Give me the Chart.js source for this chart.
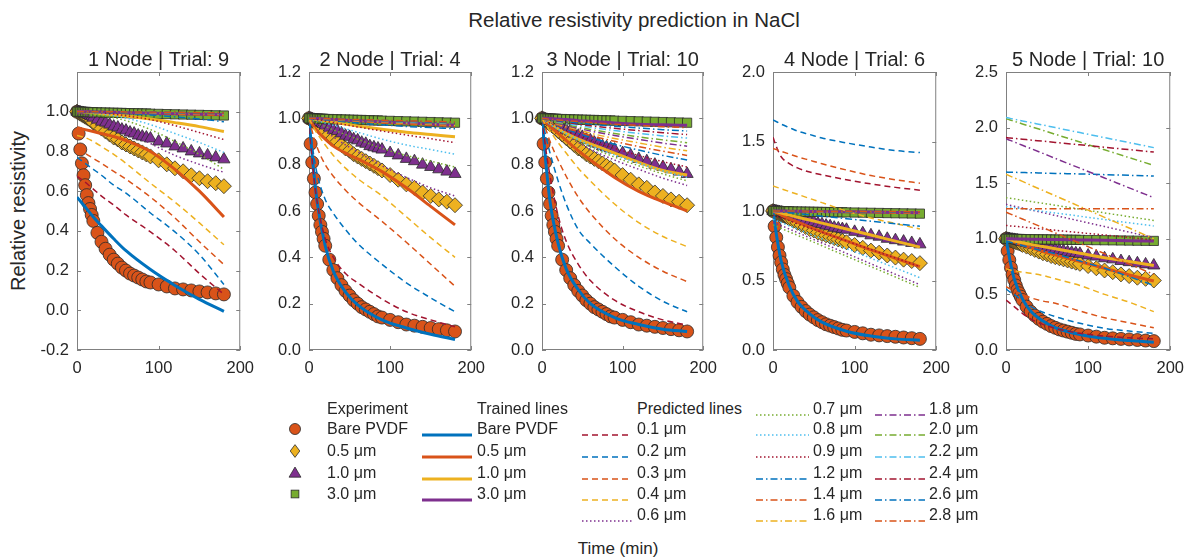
<!DOCTYPE html>
<html lang="en">
<head>
<meta charset="UTF-8">
<title>Relative resistivity prediction in NaCl</title>
<script src="https://cdn.jsdelivr.net/npm/chart.js"></script>
<style>
  body { margin: 0; background: #fff; font-family: "Liberation Sans", Arial, sans-serif; color: #262626; }
  #page { position: relative; width: 1194px; height: 559px; overflow: hidden; }
  .txt { position: absolute; white-space: nowrap; line-height: 1; }
  .leg { position: absolute; white-space: nowrap; font-size: 16px; line-height: 1; transform: translateY(-50%); }
  .icon { position: absolute; }
</style>
</head>
<body>
<div id="page">
  <div class="txt" style="left:634px; top:20px; font-size:20.5px; transform:translate(-50%,-50%);">Relative resistivity prediction in NaCl</div>
  <div class="txt" style="left:18px; top:211px; font-size:20px; transform:translate(-50%,-50%) rotate(-90deg);">Relative resistivity</div>
  <div class="txt" style="left:618px; top:548px; font-size:17px; transform:translate(-50%,-50%);">Time (min)</div>
</div>
<script>
// ---- data ----
const panelTitles = ['1 Node | Trial: 9', '2 Node | Trial: 4', '3 Node | Trial: 10', '4 Node | Trial: 6', '5 Node | Trial: 10'];
const xTicks = [0, 100, 200];
const yTicks1 = [-0.2, 0, 0.2, 0.4, 0.6, 0.8, 1.0];
const yTicks2 = [0, 0.2, 0.4, 0.6, 0.8, 1.0, 1.2];
const yTicks3 = [0, 0.2, 0.4, 0.6, 0.8, 1.0, 1.2];
const yTicks4 = [0, 0.5, 1.0, 1.5, 2.0];
const yTicks5 = [0, 0.5, 1.0, 1.5, 2.0, 2.5];

const expNames = ['Bare PVDF', '0.5 μm', '1.0 μm', '3.0 μm'];
const trainedNames = ['Bare PVDF', '0.5 μm', '1.0 μm', '3.0 μm'];
const predictedNames = ['0.1 μm', '0.2 μm', '0.3 μm', '0.4 μm', '0.6 μm', '0.7 μm', '0.8 μm', '0.9 μm',
  '1.2 μm', '1.4 μm', '1.6 μm', '1.8 μm', '2.0 μm', '2.2 μm', '2.4 μm', '2.6 μm', '2.8 μm'];

// experiment (same measurements in every panel)
const expTime = [0,2,4,6,8,10,12,14,16,18,20,25,30,35,40,45,50,55,60,65,70,75,80,85,90,100,110,120,130,140,150,160,170,180];
const expBare = [1.00,0.89,0.81,0.74,0.68,0.63,0.58,0.54,0.51,0.48,0.45,0.39,0.345,0.31,0.28,0.255,0.235,0.215,0.20,0.185,0.175,0.165,0.155,0.145,0.14,0.13,0.12,0.11,0.105,0.10,0.095,0.09,0.085,0.08];
const exp05 = [1.00,0.995,0.99,0.985,0.98,0.975,0.97,0.965,0.96,0.955,0.945,0.93,0.915,0.90,0.885,0.87,0.86,0.845,0.835,0.825,0.815,0.805,0.795,0.785,0.775,0.755,0.735,0.715,0.70,0.68,0.665,0.65,0.64,0.625];
const exp10 = [1.0,0.998,0.996,0.994,0.992,0.99,0.987,0.984,0.98,0.976,0.97,0.96,0.95,0.945,0.935,0.925,0.92,0.91,0.905,0.895,0.89,0.88,0.875,0.87,0.865,0.85,0.84,0.825,0.815,0.80,0.79,0.78,0.77,0.76];
const exp30 = [1.0,1.0,1.0,1.0,0.999,0.999,0.999,0.998,0.998,0.998,0.997,0.997,0.996,0.996,0.995,0.995,0.994,0.994,0.993,0.993,0.992,0.992,0.991,0.991,0.990,0.989,0.988,0.987,0.986,0.985,0.984,0.983,0.982,0.981];

// model lines are sampled at these times
const lineTime = [0,5,10,20,30,45,60,90,120,150,180];

// trained lines: Bare PVDF, 0.5, 1.0, 3.0 um
const trained1 = [
  [0.57,0.545,0.52,0.47,0.425,0.36,0.30,0.205,0.125,0.055,-0.005],
  [0.92,0.915,0.91,0.90,0.89,0.875,0.855,0.80,0.71,0.60,0.47],
  [1.0,1.0,0.998,0.995,0.99,0.985,0.978,0.963,0.945,0.925,0.90],
  [1.0,1.0,1.0,0.999,0.998,0.997,0.995,0.992,0.99,0.987,0.985]
];
const trained2 = [
  [1.0,0.80,0.64,0.45,0.34,0.25,0.195,0.13,0.095,0.068,0.045],
  [1.0,0.97,0.945,0.91,0.88,0.85,0.825,0.77,0.70,0.62,0.54],
  [1.0,0.998,0.995,0.99,0.985,0.975,0.967,0.953,0.94,0.93,0.92],
  [1.0,1.0,0.999,0.997,0.995,0.992,0.99,0.985,0.98,0.975,0.97]
];
const trained3 = [
  [1.0,0.80,0.64,0.46,0.35,0.26,0.20,0.14,0.11,0.09,0.08],
  [1.0,0.98,0.965,0.935,0.905,0.86,0.82,0.745,0.685,0.64,0.60],
  [1.0,0.99,0.98,0.955,0.935,0.91,0.89,0.85,0.81,0.775,0.755],
  [1.0,1.0,0.999,0.997,0.995,0.99,0.987,0.98,0.975,0.972,0.97]
];
const trained4 = [
  [1.0,0.80,0.64,0.46,0.35,0.26,0.20,0.135,0.10,0.08,0.07],
  [1.0,0.985,0.97,0.945,0.92,0.885,0.85,0.785,0.72,0.66,0.60],
  [1.0,0.992,0.985,0.97,0.955,0.935,0.913,0.87,0.827,0.783,0.74],
  [1.0,1.0,1.0,0.999,0.998,0.997,0.996,0.994,0.992,0.99,0.988]
];
const trained5 = [
  [1.0,0.80,0.64,0.46,0.35,0.26,0.20,0.14,0.105,0.085,0.07],
  [1.0,0.985,0.97,0.945,0.92,0.885,0.855,0.795,0.735,0.675,0.62],
  [1.0,0.99,0.98,0.965,0.95,0.93,0.91,0.87,0.83,0.795,0.76],
  [1.0,1.0,0.999,0.998,0.997,0.995,0.993,0.99,0.987,0.983,0.98]
];

// predicted lines, same order as predictedNames
const predicted1 = [
  [0.675,0.66,0.645,0.61,0.575,0.53,0.48,0.395,0.30,0.185,0.08],
  [0.77,0.755,0.74,0.71,0.68,0.63,0.59,0.49,0.395,0.28,0.13],
  [0.81,0.80,0.79,0.765,0.74,0.70,0.66,0.57,0.465,0.345,0.23],
  [0.88,0.875,0.87,0.85,0.825,0.785,0.74,0.64,0.545,0.44,0.33],
  [0.99,0.99,0.985,0.975,0.96,0.935,0.905,0.84,0.78,0.735,0.695],
  [1.0,0.998,0.995,0.99,0.982,0.97,0.955,0.91,0.85,0.785,0.71],
  [1.0,0.999,0.998,0.995,0.99,0.98,0.968,0.935,0.89,0.845,0.795],
  [1.0,1.0,0.999,0.997,0.994,0.988,0.98,0.96,0.93,0.895,0.86],
  [1.0,1.0,1.0,0.999,0.998,0.995,0.992,0.984,0.974,0.963,0.95],
  [1.0,1.0,1.0,0.999,0.998,0.997,0.995,0.992,0.988,0.984,0.98],
  [1.0,1.0,1.0,1.0,0.999,0.998,0.997,0.995,0.992,0.989,0.986],
  [1.0,1.0,1.0,1.0,0.999,0.998,0.997,0.995,0.993,0.99,0.988],
  [1.0,1.0,1.0,1.0,1.0,0.999,0.998,0.996,0.994,0.992,0.99],
  [1.0,1.0,1.0,1.0,1.0,0.999,0.998,0.997,0.995,0.993,0.991],
  [1.0,1.0,1.0,1.0,1.0,0.999,0.999,0.997,0.996,0.994,0.992],
  [1.0,1.0,1.0,1.0,1.0,1.0,0.999,0.998,0.996,0.995,0.993],
  [1.0,1.0,1.0,1.0,1.0,1.0,0.999,0.998,0.997,0.995,0.994]
];
const predicted2 = [
  [1.0,0.78,0.64,0.48,0.40,0.33,0.29,0.22,0.165,0.13,0.10],
  [1.0,0.86,0.76,0.65,0.59,0.52,0.46,0.37,0.29,0.225,0.165],
  [1.0,0.93,0.875,0.80,0.75,0.69,0.64,0.555,0.465,0.37,0.275],
  [1.0,0.965,0.935,0.885,0.84,0.785,0.74,0.665,0.575,0.485,0.40],
  [1.0,0.985,0.97,0.945,0.92,0.885,0.855,0.795,0.745,0.70,0.665],
  [1.0,0.99,0.98,0.965,0.95,0.93,0.91,0.87,0.84,0.815,0.79],
  [1.0,0.995,0.99,0.98,0.97,0.955,0.94,0.91,0.885,0.865,0.845],
  [1.0,0.997,0.994,0.988,0.982,0.972,0.963,0.945,0.928,0.912,0.895],
  [1.0,0.999,0.997,0.994,0.99,0.985,0.98,0.972,0.965,0.96,0.955],
  [1.0,1.0,0.998,0.996,0.993,0.99,0.987,0.98,0.975,0.97,0.965],
  [1.0,1.0,0.999,0.997,0.995,0.992,0.989,0.984,0.979,0.975,0.97],
  [1.0,1.0,0.999,0.998,0.996,0.993,0.991,0.986,0.982,0.978,0.975],
  [1.0,1.0,1.0,0.998,0.996,0.994,0.992,0.988,0.984,0.98,0.977],
  [1.0,1.0,1.0,0.998,0.997,0.995,0.993,0.989,0.985,0.982,0.979],
  [1.0,1.0,1.0,0.999,0.997,0.995,0.993,0.99,0.987,0.984,0.98],
  [1.0,1.0,1.0,0.999,0.998,0.996,0.994,0.991,0.988,0.985,0.982],
  [1.0,1.0,1.0,0.999,0.998,0.996,0.995,0.992,0.989,0.987,0.984]
];
const predicted3 = [
  [1.0,0.86,0.75,0.58,0.47,0.37,0.30,0.215,0.165,0.13,0.108],
  [1.0,0.92,0.85,0.73,0.63,0.52,0.46,0.36,0.275,0.21,0.165],
  [1.0,0.95,0.90,0.82,0.75,0.66,0.59,0.48,0.40,0.34,0.295],
  [1.0,0.97,0.945,0.895,0.85,0.785,0.73,0.63,0.55,0.49,0.446],
  [1.0,0.985,0.971,0.948,0.925,0.896,0.867,0.82,0.78,0.742,0.71],
  [1.0,0.987,0.973,0.951,0.93,0.903,0.876,0.833,0.795,0.76,0.73],
  [1.0,0.987,0.975,0.954,0.934,0.908,0.883,0.842,0.806,0.773,0.745],
  [1.0,0.99,0.979,0.962,0.945,0.924,0.903,0.87,0.84,0.813,0.79],
  [1.0,0.991,0.982,0.968,0.953,0.935,0.917,0.888,0.863,0.84,0.82],
  [1.0,0.992,0.984,0.971,0.958,0.942,0.926,0.901,0.878,0.858,0.84],
  [1.0,0.993,0.986,0.975,0.964,0.95,0.936,0.913,0.894,0.875,0.86],
  [1.0,0.994,0.988,0.978,0.969,0.957,0.945,0.926,0.909,0.893,0.88],
  [1.0,0.995,0.99,0.981,0.973,0.962,0.952,0.935,0.92,0.907,0.895],
  [1.0,0.996,0.992,0.985,0.978,0.969,0.961,0.947,0.935,0.924,0.915],
  [1.0,0.996,0.993,0.987,0.982,0.975,0.968,0.957,0.947,0.938,0.93],
  [1.0,0.997,0.995,0.99,0.986,0.98,0.975,0.966,0.958,0.951,0.945],
  [1.0,0.998,0.996,0.993,0.99,0.986,0.982,0.975,0.97,0.964,0.96]
];
const predicted4 = [
  [1.53,1.45,1.39,1.34,1.31,1.28,1.26,1.225,1.195,1.17,1.15],
  [1.655,1.64,1.625,1.60,1.575,1.55,1.525,1.49,1.46,1.435,1.42],
  [1.45,1.44,1.43,1.41,1.39,1.365,1.34,1.295,1.255,1.225,1.20],
  [1.18,1.17,1.16,1.14,1.12,1.09,1.06,1.0,0.95,0.91,0.87],
  [0.92,0.907,0.895,0.87,0.845,0.807,0.77,0.695,0.62,0.545,0.47],
  [0.90,0.888,0.875,0.85,0.825,0.788,0.75,0.675,0.60,0.525,0.45],
  [0.94,0.928,0.917,0.893,0.87,0.835,0.80,0.73,0.66,0.59,0.52],
  [0.97,0.96,0.95,0.93,0.908,0.878,0.847,0.785,0.723,0.662,0.60],
  [1.0,0.997,0.994,0.988,0.982,0.973,0.963,0.945,0.927,0.908,0.89],
  [1.0,1.0,0.999,0.998,0.997,0.995,0.993,0.99,0.988,0.986,0.985],
  [1.0,1.0,1.0,0.999,0.998,0.997,0.996,0.994,0.992,0.99,0.988],
  [1.0,1.0,1.0,0.999,0.998,0.997,0.996,0.994,0.993,0.991,0.99],
  [1.0,1.0,1.0,1.0,0.999,0.998,0.997,0.995,0.994,0.992,0.991],
  [1.0,1.0,1.0,1.0,0.999,0.998,0.997,0.996,0.994,0.993,0.992],
  [1.0,1.0,1.0,1.0,0.999,0.999,0.998,0.996,0.995,0.994,0.993],
  [1.0,1.0,1.0,1.0,1.0,0.999,0.998,0.997,0.996,0.995,0.994],
  [1.0,1.0,1.0,1.0,1.0,0.999,0.999,0.998,0.997,0.996,0.995]
];
const predicted5 = [
  [0.45,0.42,0.39,0.33,0.28,0.23,0.195,0.15,0.125,0.11,0.10],
  [0.55,0.52,0.50,0.44,0.39,0.34,0.30,0.24,0.195,0.17,0.15],
  [0.57,0.55,0.53,0.50,0.47,0.44,0.42,0.35,0.29,0.245,0.20],
  [0.73,0.72,0.71,0.70,0.69,0.67,0.64,0.58,0.50,0.43,0.345],
  [1.31,1.302,1.293,1.277,1.26,1.235,1.21,1.16,1.11,1.06,1.01],
  [1.37,1.364,1.359,1.347,1.336,1.319,1.302,1.267,1.233,1.199,1.165],
  [1.29,1.285,1.28,1.271,1.261,1.246,1.232,1.203,1.173,1.144,1.115],
  [1.12,1.116,1.113,1.106,1.098,1.088,1.077,1.055,1.034,1.012,0.99],
  [1.60,1.599,1.598,1.596,1.594,1.591,1.588,1.583,1.577,1.571,1.565],
  [1.24,1.224,1.209,1.178,1.147,1.10,1.053,0.96,0.867,0.773,0.68],
  [1.58,1.564,1.548,1.516,1.483,1.435,1.387,1.29,1.193,1.097,1.0],
  [1.90,1.885,1.871,1.841,1.812,1.768,1.723,1.635,1.547,1.458,1.37],
  [2.08,2.068,2.057,2.033,2.01,1.975,1.94,1.87,1.80,1.73,1.66],
  [2.09,2.083,2.075,2.06,2.045,2.023,2.0,1.955,1.91,1.865,1.82],
  [1.91,1.906,1.903,1.896,1.888,1.878,1.867,1.845,1.823,1.802,1.78],
  [0.98,0.97,0.96,0.94,0.92,0.89,0.865,0.80,0.735,0.66,0.58],
  [1.27,1.27,1.27,1.27,1.27,1.27,1.27,1.27,1.27,1.27,1.27]
];

// ---- styles ----
const C = { blue: '#0072BD', orange: '#D95319', yellow: '#EDB120', purple: '#7E2F8E',
            green: '#77AC30', cyan: '#4DBEEE', red: '#A2142F' };
const expStyles = [
  { shape: 'circle', radius: 6.5, color: C.orange },
  { shape: 'rectRot', radius: 7.5, color: C.yellow },
  { shape: 'triangle', radius: 7, color: C.purple },
  { shape: 'rect', radius: 6.5, color: C.green }
];
const trainedColors = [C.blue, C.orange, C.yellow, C.purple];
const predColors = [C.red, C.blue, C.orange, C.yellow, C.purple, C.green, C.cyan, C.red,
  C.blue, C.orange, C.yellow, C.purple, C.green, C.cyan, C.red, C.blue, C.orange];
const DASH = [6, 4], DOT = [1.5, 2.5], DASHDOT = [7, 3, 1.5, 3];
const predDash = i => (i < 4 ? DASH : i < 8 ? DOT : DASHDOT);

const panels = [
  { left: 77,   right: 247,  yMin: -0.2, yMax: 1.2, ticks: yTicks1, trained: trained1, predicted: predicted1 },
  { left: 309,  right: 478,  yMin: 0,    yMax: 1.2, ticks: yTicks2, trained: trained2, predicted: predicted2 },
  { left: 542,  right: 710,  yMin: 0,    yMax: 1.2, ticks: yTicks3, trained: trained3, predicted: predicted3 },
  { left: 773,  right: 943,  yMin: 0,    yMax: 2.0, ticks: yTicks4, trained: trained4, predicted: predicted4 },
  { left: 1006, right: 1177, yMin: 0,    yMax: 2.5, ticks: yTicks5, trained: trained5, predicted: predicted5 }
];

Chart.defaults.font.family = '"Liberation Sans", Arial, sans-serif';
Chart.defaults.color = '#262626';

// MATLAB-like axes box with inward ticks
const boxPlugin = {
  id: 'box',
  beforeDatasetsDraw(chart) {
    const { ctx, chartArea: a, scales: { x, y } } = chart;
    ctx.save();
    ctx.strokeStyle = '#808080';
    ctx.lineWidth = 1;
    ctx.strokeRect(a.left + 0.5, a.top + 0.5, a.width - 1, a.height - 1);
    ctx.beginPath();
    y.ticks.forEach(t => {
      const py = Math.round(y.getPixelForValue(t.value)) + 0.5;
      ctx.moveTo(a.left, py); ctx.lineTo(a.left + 4, py);
      ctx.moveTo(a.right, py); ctx.lineTo(a.right - 4, py);
    });
    x.ticks.forEach(t => {
      const px = Math.round(x.getPixelForValue(t.value)) + 0.5;
      ctx.moveTo(px, a.bottom); ctx.lineTo(px, a.bottom - 4);
      ctx.moveTo(px, a.top); ctx.lineTo(px, a.top + 4);
    });
    ctx.stroke();
    ctx.restore();
  }
};

const page = document.getElementById('page');
const expData = [expBare, exp05, exp10, exp30];

panels.forEach((p, k) => {
  const cv = document.createElement('canvas');
  cv.width = p.right - p.left + 66;
  cv.height = 340;
  cv.style.cssText = `position:absolute; left:${p.left - 50}px; top:40px;`;
  page.appendChild(cv);

  const datasets = [];
  expData.forEach((vals, i) => {
    const s = expStyles[i];
    datasets.push({
      label: 'Experiment ' + expNames[i],
      data: expTime.map((t, j) => ({ x: t, y: vals[j] })),
      showLine: false, clip: false,
      pointStyle: s.shape, pointRadius: s.radius,
      pointBackgroundColor: s.color, pointBorderColor: '#2b2b2b', pointBorderWidth: 0.8
    });
  });
  p.trained.forEach((vals, i) => {
    datasets.push({
      label: 'Trained ' + trainedNames[i],
      data: lineTime.map((t, j) => ({ x: t, y: vals[j] })),
      borderColor: trainedColors[i], borderWidth: 3, pointRadius: 0,
      cubicInterpolationMode: 'monotone'
    });
  });
  p.predicted.forEach((vals, i) => {
    datasets.push({
      label: 'Predicted ' + predictedNames[i],
      data: lineTime.map((t, j) => ({ x: t, y: vals[j] })),
      borderColor: predColors[i], borderWidth: 1.5, borderDash: predDash(i), pointRadius: 0,
      cubicInterpolationMode: 'monotone'
    });
  });
  // later series drawn on top, as in the original plot
  datasets.forEach((d, i) => { d.order = datasets.length - i; });

  new Chart(cv, {
    type: 'line',
    data: { datasets },
    options: {
      responsive: false,
      animation: false,
      events: [],
      layout: { padding: { right: 16 } },
      plugins: {
        legend: { display: false },
        tooltip: { enabled: false },
        title: {
          display: true, text: panelTitles[k], color: '#262626', fullSize: false,
          font: { size: 20, weight: 'normal' }, padding: { top: 8, bottom: 0 }
        }
      },
      scales: {
        x: {
          type: 'linear', min: 0, max: 200,
          grid: { display: false, drawTicks: false }, border: { display: false },
          ticks: { padding: 9, autoSkip: false, maxRotation: 0, font: { size: 16.5 }, color: '#262626' },
          afterBuildTicks: s => { s.ticks = xTicks.map(v => ({ value: v })); },
          afterFit: s => { s.height = 30; }
        },
        y: {
          min: p.yMin, max: p.yMax,
          grid: { display: false, drawTicks: false }, border: { display: false },
          ticks: { padding: 8, autoSkip: false, font: { size: 16.5 }, color: '#262626',
                   callback: v => v.toFixed(1) },
          afterBuildTicks: s => { s.ticks = p.ticks.map(v => ({ value: v })); },
          afterFit: s => { s.width = 50; }
        }
      }
    },
    plugins: [boxPlugin]
  });
});

// ---- legend (html text + svg samples) ----
const rowY = [409, 429, 451, 473, 494, 515];

function addText(text, x, y) {
  const d = document.createElement('div');
  d.className = 'leg';
  d.style.left = x + 'px';
  d.style.top = y + 'px';
  d.textContent = text;
  page.appendChild(d);
}
function addLine(x1, x2, y, color, width, dash) {
  const w = x2 - x1;
  const svg = `<svg width="${w}" height="8" xmlns="http://www.w3.org/2000/svg"><line x1="0" y1="4" x2="${w}" y2="4" stroke="${color}" stroke-width="${width}" ${dash ? `stroke-dasharray="${dash.join(' ')}"` : ''}/></svg>`;
  const d = document.createElement('div');
  d.className = 'icon';
  d.style.left = x1 + 'px';
  d.style.top = (y - 4) + 'px';
  d.innerHTML = svg;
  page.appendChild(d);
}
function addMarker(cx, cy, s) {
  let shape = '';
  const r = s.radius * 0.85;
  const st = `fill="${s.color}" stroke="#2b2b2b" stroke-width="0.8"`;
  if (s.shape === 'circle') shape = `<circle cx="10" cy="10" r="${r}" ${st}/>`;
  if (s.shape === 'rectRot') shape = `<polygon points="10,${10 - r} ${10 + r * 0.75},10 10,${10 + r} ${10 - r * 0.75},10" ${st}/>`;
  if (s.shape === 'triangle') shape = `<polygon points="10,${10 - r} ${10 + r},${10 + r * 0.7} ${10 - r},${10 + r * 0.7}" ${st}/>`;
  if (s.shape === 'rect') { const h = r * 0.7; shape = `<rect x="${10 - h}" y="${10 - h}" width="${2 * h}" height="${2 * h}" ${st}/>`; }
  const d = document.createElement('div');
  d.className = 'icon';
  d.style.left = (cx - 10) + 'px';
  d.style.top = (cy - 10) + 'px';
  d.innerHTML = `<svg width="20" height="20" xmlns="http://www.w3.org/2000/svg">${shape}</svg>`;
  page.appendChild(d);
}

addText('Experiment', 327, rowY[0]);
expNames.forEach((n, i) => { addMarker(295, rowY[i + 1], expStyles[i]); addText(n, 327, rowY[i + 1]); });

addText('Trained lines', 477, rowY[0]);
trainedNames.forEach((n, i) => { addLine(422, 472, rowY[i + 1], trainedColors[i], 3, null); addText(n, 477, rowY[i + 1]); });

addText('Predicted lines', 637, rowY[0]);
predictedNames.forEach((n, i) => {
  let x1, x2, tx, row;
  if (i < 5) { x1 = 582; x2 = 632; tx = 637; row = i + 1; }
  else if (i < 11) { x1 = 756; x2 = 809; tx = 813; row = i - 5; }
  else { x1 = 875; x2 = 925; tx = 929; row = i - 11; }
  addLine(x1, x2, rowY[row], predColors[i], 1.5, predDash(i));
  addText(n, tx, rowY[row]);
});
</script>
</body>
</html>
